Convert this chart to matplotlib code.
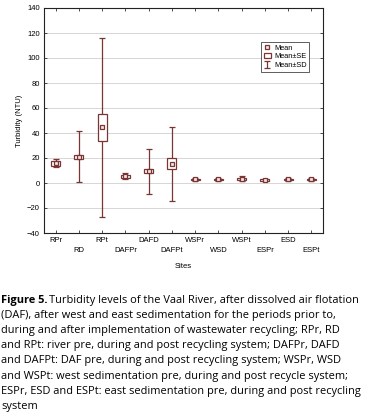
import matplotlib
matplotlib.use('Agg')
import matplotlib.pyplot as plt
import numpy as np

sites = ['RPr', 'RD', 'RPt', 'DAFPr', 'DAFD', 'DAFPt',
         'WSPr', 'WSD', 'WSPt', 'ESPr', 'ESD', 'ESPt']
mean = [16, 21, 44.5, 5.5, 9.5, 15.5, 3, 3, 3.5, 2.5, 3, 3]
se = [2, 1.5, 10.8, 1.2, 1.5, 4.3, 0.6, 0.6, 0.9, 0.6, 0.6, 0.6]
sd = [3.5, 20.5, 71.5, 2.3, 18, 29.5, 1.2, 1.2, 1.8, 1.1, 1.1, 1.1]
yticks = [-40, -20, 0, 20, 40, 60, 80, 100, 120, 140]

col = '#7a3434'
tick_font = 'Liberation Sans'

fig = plt.figure(figsize=(3.67, 4.18), dpi=100)
ax = fig.add_axes([44 / 367, 1 - 233 / 418, 279 / 367, 225 / 418])

x = np.arange(len(sites))
mean = np.array(mean)
se = np.array(se)
sd = np.array(sd)

sd_bar = ax.errorbar(x, mean, yerr=sd, fmt='none', ecolor=col, elinewidth=0.9,
                     capsize=2.3, capthick=0.9, zorder=3)
se_box = ax.bar(x, 2 * se, bottom=mean - se, width=0.38, facecolor='white',
                edgecolor=col, linewidth=0.9, zorder=4)
mean_pt, = ax.plot(x, mean, 's', ms=3, mfc='#f4e6e6', mec=col, mew=0.9,
                   zorder=5, linestyle='none')

ax.set_xlim(-0.5, len(sites) - 0.5)
ax.set_ylim(-40, 140)
ax.set_yticks(yticks)
ax.set_xticks(x)
ax.set_xticklabels([s if i % 2 == 0 else '\n' + s for i, s in enumerate(sites)],
                   fontsize=5.5, family=tick_font, linespacing=1.5)
ax.tick_params(axis='y', labelsize=5.5)
for lab in ax.get_yticklabels():
    lab.set_family(tick_font)
ax.tick_params(direction='in', length=2, width=0.6, top=True, right=True,
               colors='#333333', labelcolor='black', pad=3)
ax.grid(axis='y', color='#d0d0d0', linewidth=0.6)
ax.set_axisbelow(True)
for s in ax.spines.values():
    s.set_linewidth(0.8)
    s.set_color('#222222')

ax.set_ylabel('Turbidity (NTU)', fontsize=5.5, family=tick_font, labelpad=3)
ax.set_xlabel('Sites', fontsize=5.5, family=tick_font, labelpad=7)

leg = ax.legend([mean_pt, se_box, sd_bar], ['Mean', 'Mean±SE', 'Mean±SD'],
                loc='upper left', bbox_to_anchor=(0.765, 0.865),
                prop={'family': tick_font, 'size': 5.3}, fancybox=False,
                framealpha=1, edgecolor='#444444', handlelength=1.0,
                handletextpad=0.4, borderpad=0.35, labelspacing=0.2)
leg.get_frame().set_linewidth(0.6)

caption_lines = [
    'Turbidity levels of the Vaal River, after dissolved air flotation',
    '(DAF), after west and east sedimentation for the periods prior to,',
    'during and after implementation of wastewater recycling; RPr, RD',
    'and RPt: river pre, during and post recycling system; DAFPr, DAFD',
    'and DAFPt: DAF pre, during and post recycling system; WSPr, WSD',
    'and WSPt: west sedimentation pre, during and post recycle system;',
    'ESPr, ESD and ESPt: east sedimentation pre, during and post recycling',
    'system',
]
cap_font = 'Open Sans'
cap_size = 7.9
y0 = 1 - 300 / 418
dy = 15.2 / 418
bold = fig.text(1 / 367, y0, 'Figure 5.', fontsize=cap_size, family=cap_font,
                weight='bold', va='center')
fig.canvas.draw()
bb = bold.get_window_extent(fig.canvas.get_renderer())
fig.text(bb.x1 / fig.bbox.width + 0.005, y0, caption_lines[0], fontsize=cap_size,
         family=cap_font, va='center')
for i, line in enumerate(caption_lines[1:], start=1):
    fig.text(1 / 367, y0 - i * dy, line, fontsize=cap_size, family=cap_font,
             va='center')

fig.savefig('out.png', dpi=100)
